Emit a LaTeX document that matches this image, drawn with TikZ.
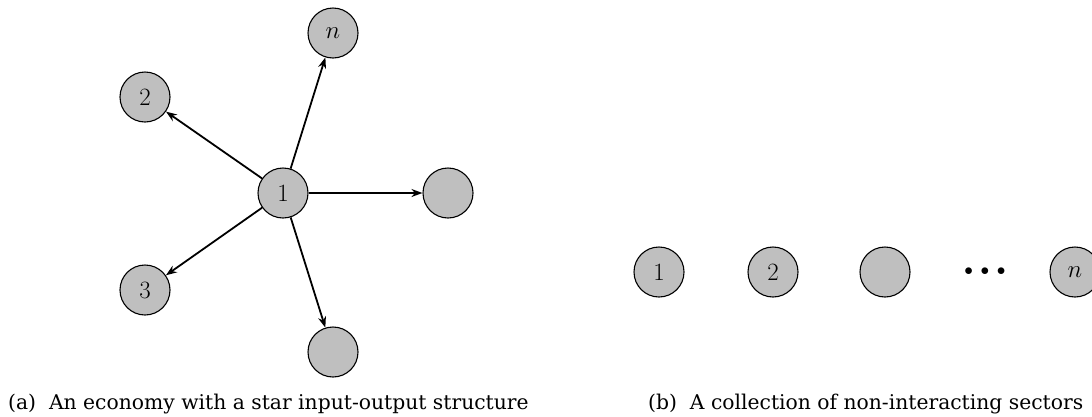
\documentclass[tikz,border=0pt]{standalone}
\usepackage{fontspec}
\newfontfamily\capfont{DejaVu Serif}
\usetikzlibrary{arrows.meta}
\begin{document}
\begin{tikzpicture}[x=1pt,y=-1pt,
  sector/.style={circle,draw=black,line width=1.1pt,fill=lightgray,minimum size=50pt,inner sep=0pt,font=\fontsize{31}{36}\selectfont},
  link/.style={line width=1.8pt,-{Stealth[length=11pt,width=8pt]}},
  captext/.style={anchor=base west,inner sep=0pt,font=\capfont\fontsize{20.3}{26}\selectfont}]
\useasboundingbox (0,0) rectangle (1092,416);
\node[sector] (c) at (283,193) {$1$};
\node[sector] (n) at (333,33) {$n$};
\node[sector] (two) at (145,97) {$2$};
\node[sector] (three) at (145,290) {$3$};
\node[sector] (r) at (448,193) {};
\node[sector] (b) at (333,352) {};
\draw[link] (c) -- (n);
\draw[link] (c) -- (two);
\draw[link] (c) -- (three);
\draw[link] (c) -- (r);
\draw[link] (c) -- (b);
\node[sector] (b1) at (659,272) {$1$};
\node[sector] (b2) at (773,272) {$2$};
\node[sector] (b3) at (885,272) {};
\node (dots) at (985,272) {\fontsize{16}{20}\selectfont$\bullet\mkern4mu\bullet\mkern4mu\bullet$};
\node[sector] (bn) at (1075,272) {$n$};
\node[captext] (capa) at (8,409) {(a)\ \ An economy with a star input-output structure};
\node[captext] (capb) at (648,409) {(b)\ \ A collection of non-interacting sectors};
\end{tikzpicture}
\end{document}
